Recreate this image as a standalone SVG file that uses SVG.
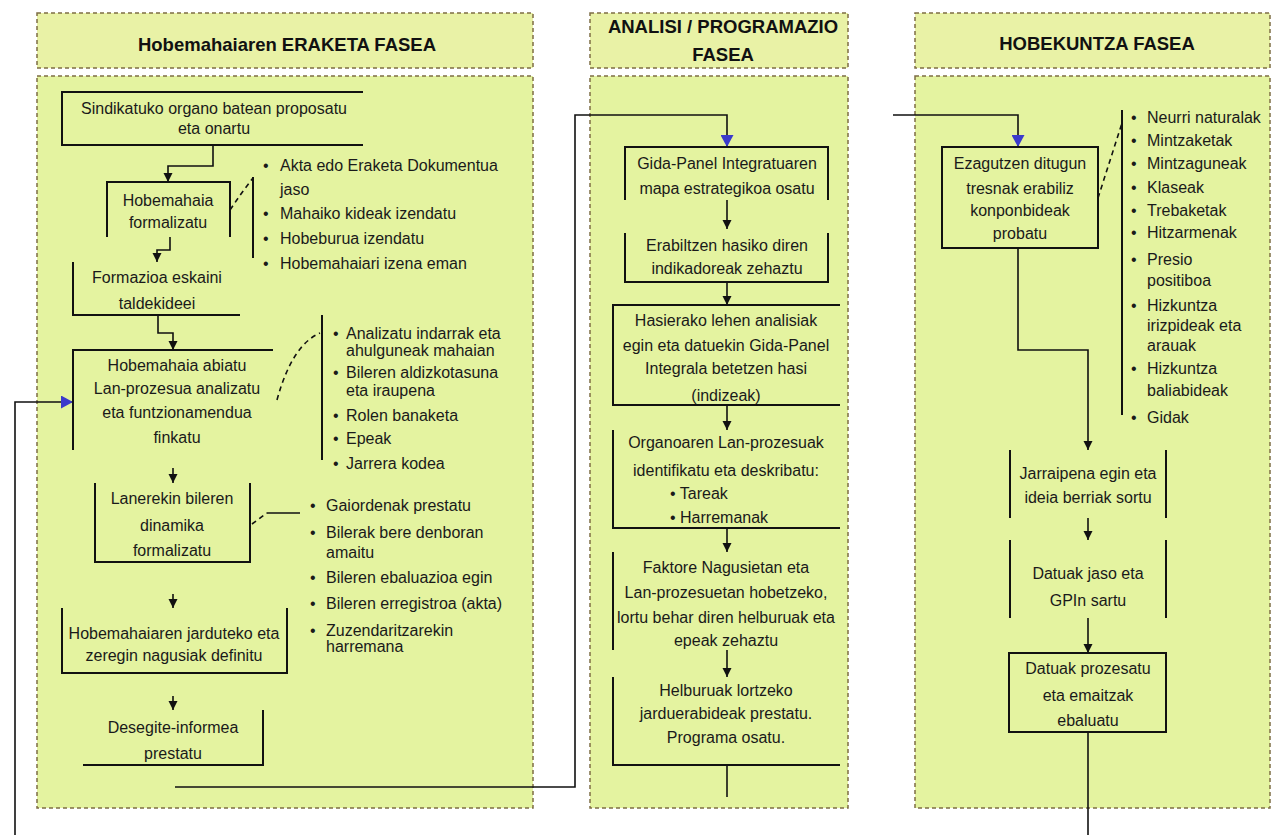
<svg xmlns="http://www.w3.org/2000/svg" width="1276" height="835" viewBox="0 0 1276 835">
  <style>
    .band { fill: #e9f2a6; stroke: #7d6d44; stroke-width: 1.5; stroke-dasharray: 4 3; }
    .body { fill: #e4f3a0; stroke: #7d6d44; stroke-width: 1.5; stroke-dasharray: 4 3; }
    .hdr { font-family: "Liberation Sans", Arial, sans-serif; font-size: 18.5px; font-weight: bold; fill: #111; text-anchor: middle; }
    .t { font-family: "Liberation Sans", Arial, sans-serif; font-size: 16px; fill: #1a1a1a; text-anchor: middle; }
    .b { font-family: "Liberation Sans", Arial, sans-serif; font-size: 16px; fill: #1a1a1a; }
    .edge { stroke: #111; stroke-width: 2; fill: none; }
    .ln { stroke: #111; stroke-width: 1.6; fill: none; }
    .dash { stroke: #111; stroke-width: 1.6; fill: none; stroke-dasharray: 5 4; }
    .arr { stroke: #111; stroke-width: 1.6; fill: none; marker-end: url(#ah); }
    .arrb { stroke: #111; stroke-width: 1.6; fill: none; marker-end: url(#ahb); }
  </style>
  <defs>
    <marker id="ah" markerUnits="userSpaceOnUse" markerWidth="10" markerHeight="10" refX="9" refY="5" orient="auto">
      <path d="M0,0.5 L9,5 L0,9.5 z" fill="#111"/>
    </marker>
    <marker id="ahb" markerUnits="userSpaceOnUse" markerWidth="13" markerHeight="13" refX="12" refY="6.5" orient="auto">
      <path d="M0,0 L12,6.5 L0,13 z" fill="#3a3acc"/>
    </marker>
  </defs>

  <rect width="1276" height="835" fill="#ffffff"/>

  <!-- phase columns -->
  <g id="phase-eraketa">
    <rect class="band" x="37" y="13" width="496" height="55"/>
    <rect class="body" x="37" y="76" width="496" height="732"/>
    <text class="hdr" x="287" y="51">Hobemahaiaren ERAKETA FASEA</text>
  </g>
  <g id="phase-analisi">
    <rect class="band" x="590" y="13" width="258" height="55"/>
    <rect class="body" x="590" y="76" width="258" height="732"/>
    <text class="hdr" x="723" y="33">ANALISI / PROGRAMAZIO</text>
    <text class="hdr" x="723" y="61">FASEA</text>
  </g>
  <g id="phase-hobekuntza">
    <rect class="band" x="915" y="13" width="355" height="55"/>
    <rect class="body" x="915" y="76" width="355" height="732"/>
    <text class="hdr" x="1097" y="50">HOBEKUNTZA FASEA</text>
  </g>

  <!-- connectors -->
  <g id="connectors">
    <path class="arr" d="M213,145 V166 H168 V182"/>
    <path class="arr" d="M170,237 V250 H157 V262"/>
    <path class="arr" d="M158,315 V333 H173 V350"/>
    <path class="arr" d="M173,468 V483"/>
    <path class="arr" d="M173,594 V608"/>
    <path class="arr" d="M173,696 V710"/>
    <path class="arrb" d="M175,787 H575 V115 H727 V147"/>
    <path class="arrb" d="M15,835 V402 H73"/>

    <path class="arr" d="M727,200 V229"/>
    <path class="arr" d="M727,282 V305"/>
    <path class="arr" d="M727,405 V430"/>
    <path class="arr" d="M727,528 V552"/>
    <path class="arr" d="M727,650 V677"/>
    <path class="ln" d="M727,765 V797"/>

    <path class="arrb" d="M893,115 H1018 V147"/>
    <path class="arr" d="M1018,248 V350 H1088 V450"/>
    <path class="arr" d="M1088,518 V540"/>
    <path class="arr" d="M1088,618 V653"/>
    <path class="ln" d="M1088,732 V835"/>

    <!-- links from steps to their detail lists -->
    <path class="dash" d="M230,210 Q242,192 253,178"/>
    <path class="dash" d="M277,400 Q292,345 320,333"/>
    <path class="dash" d="M252,524 L267,513"/>
    <path class="ln" d="M267,513 H300"/>
    <path class="dash" d="M1098,198 L1122,123"/>
  </g>

  <!-- ERAKETA phase steps -->
  <g id="s1">
    <path class="edge" d="M363,92 H62 V145 H363"/>
    <text class="t" x="214" y="114">Sindikatuko organo batean proposatu</text>
    <text class="t" x="214" y="134">eta onartu</text>
  </g>
  <g id="s2">
    <path class="edge" d="M107,237 V182 H230 V237"/>
    <text class="t" x="168" y="206">Hobemahaia</text>
    <text class="t" x="168" y="228">formalizatu</text>
  </g>
  <g id="s2-list">
    <path class="edge" d="M253,177 V258"/>
    <text class="b" x="263" y="171">•</text><text class="b" x="280" y="171">Akta edo Eraketa Dokumentua</text>
    <text class="b" x="280" y="195">jaso</text>
    <text class="b" x="263" y="219">•</text><text class="b" x="280" y="219">Mahaiko kideak izendatu</text>
    <text class="b" x="263" y="244">•</text><text class="b" x="280" y="244">Hobeburua izendatu</text>
    <text class="b" x="263" y="269">•</text><text class="b" x="280" y="269">Hobemahaiari izena eman</text>
  </g>
  <g id="s3">
    <path class="edge" d="M73,262 V315 H240"/>
    <text class="t" x="157" y="283">Formazioa eskaini</text>
    <text class="t" x="157" y="309">taldekideei</text>
  </g>
  <g id="s4">
    <path class="edge" d="M273,350 H73 V450"/>
    <text class="t" x="177" y="371">Hobemahaia abiatu</text>
    <text class="t" x="177" y="394">Lan-prozesua analizatu</text>
    <text class="t" x="177" y="418">eta funtzionamendua</text>
    <text class="t" x="177" y="443">finkatu</text>
  </g>
  <g id="s4-list">
    <path class="edge" d="M322,315 V460"/>
    <text class="b" x="333" y="339">•</text><text class="b" x="346" y="339">Analizatu indarrak eta</text>
    <text class="b" x="346" y="356">ahulguneak mahaian</text>
    <text class="b" x="333" y="378">•</text><text class="b" x="346" y="378">Bileren aldizkotasuna</text>
    <text class="b" x="346" y="396">eta iraupena</text>
    <text class="b" x="333" y="421">•</text><text class="b" x="346" y="421">Rolen banaketa</text>
    <text class="b" x="333" y="444">•</text><text class="b" x="346" y="444">Epeak</text>
    <text class="b" x="333" y="469">•</text><text class="b" x="346" y="469">Jarrera kodea</text>
  </g>
  <g id="s5">
    <path class="edge" d="M95,483 V562 H250 V483"/>
    <text class="t" x="172" y="504">Lanerekin bileren</text>
    <text class="t" x="172" y="531">dinamika</text>
    <text class="t" x="172" y="556">formalizatu</text>
  </g>
  <g id="s5-list">
    <text class="b" x="310" y="511">•</text><text class="b" x="326" y="511">Gaiordenak prestatu</text>
    <text class="b" x="310" y="538">•</text><text class="b" x="326" y="538">Bilerak bere denboran</text>
    <text class="b" x="326" y="558">amaitu</text>
    <text class="b" x="310" y="583">•</text><text class="b" x="326" y="583">Bileren ebaluazioa egin</text>
    <text class="b" x="310" y="609">•</text><text class="b" x="326" y="609">Bileren erregistroa (akta)</text>
    <text class="b" x="310" y="636">•</text><text class="b" x="326" y="636">Zuzendaritzarekin</text>
    <text class="b" x="326" y="652">harremana</text>
  </g>
  <g id="s6">
    <path class="edge" d="M62,608 V673 H287 V608"/>
    <text class="t" x="174" y="639">Hobemahaiaren jarduteko eta</text>
    <text class="t" x="174" y="661">zeregin nagusiak definitu</text>
  </g>
  <g id="s7">
    <path class="edge" d="M263,710 V765 H83"/>
    <text class="t" x="173" y="733">Desegite-informea</text>
    <text class="t" x="173" y="759">prestatu</text>
  </g>

  <!-- ANALISI / PROGRAMAZIO phase steps -->
  <g id="a1">
    <path class="edge" d="M625,200 V147 H828 V200"/>
    <text class="t" x="727" y="169">Gida-Panel Integratuaren</text>
    <text class="t" x="727" y="194">mapa estrategikoa osatu</text>
  </g>
  <g id="a2">
    <path class="edge" d="M625,233 V282 H828 V233"/>
    <text class="t" x="727" y="251">Erabiltzen hasiko diren</text>
    <text class="t" x="727" y="274">indikadoreak zehaztu</text>
  </g>
  <g id="a3">
    <path class="edge" d="M840,305 H613 V405 H840"/>
    <text class="t" x="726" y="326">Hasierako lehen analisiak</text>
    <text class="t" x="726" y="351">egin eta datuekin Gida-Panel</text>
    <text class="t" x="726" y="374">Integrala betetzen hasi</text>
    <text class="t" x="726" y="401">(indizeak)</text>
  </g>
  <g id="a4">
    <path class="edge" d="M613,430 V528 H840"/>
    <text class="t" x="726" y="448">Organoaren Lan-prozesuak</text>
    <text class="t" x="726" y="476">identifikatu eta deskribatu:</text>
    <text class="b" x="670" y="499">• Tareak</text>
    <text class="b" x="670" y="523">• Harremanak</text>
  </g>
  <g id="a5">
    <path class="edge" d="M613,552 V650"/>
    <text class="t" x="726" y="573">Faktore Nagusietan eta</text>
    <text class="t" x="726" y="598">Lan-prozesuetan hobetzeko,</text>
    <text class="t" x="726" y="623">lortu behar diren helburuak eta</text>
    <text class="t" x="726" y="646">epeak zehaztu</text>
  </g>
  <g id="a6">
    <path class="edge" d="M613,677 V765 H840"/>
    <text class="t" x="726" y="696">Helburuak lortzeko</text>
    <text class="t" x="726" y="719">jarduerabideak prestatu.</text>
    <text class="t" x="726" y="743">Programa osatu.</text>
  </g>

  <!-- HOBEKUNTZA phase steps -->
  <g id="h1">
    <rect class="edge" x="942" y="147" width="156" height="101"/>
    <text class="t" x="1020" y="169">Ezagutzen ditugun</text>
    <text class="t" x="1020" y="194">tresnak erabiliz</text>
    <text class="t" x="1020" y="216">konponbideak</text>
    <text class="t" x="1020" y="239">probatu</text>
  </g>
  <g id="h1-list">
    <path class="edge" d="M1122,110 V415"/>
    <text class="b" x="1131" y="123">•</text><text class="b" x="1147" y="123">Neurri naturalak</text>
    <text class="b" x="1131" y="146">•</text><text class="b" x="1147" y="146">Mintzaketak</text>
    <text class="b" x="1131" y="169">•</text><text class="b" x="1147" y="169">Mintzaguneak</text>
    <text class="b" x="1131" y="193">•</text><text class="b" x="1147" y="193">Klaseak</text>
    <text class="b" x="1131" y="216">•</text><text class="b" x="1147" y="216">Trebaketak</text>
    <text class="b" x="1131" y="238">•</text><text class="b" x="1147" y="238">Hitzarmenak</text>
    <text class="b" x="1131" y="265">•</text><text class="b" x="1147" y="265">Presio</text>
    <text class="b" x="1147" y="286">positiboa</text>
    <text class="b" x="1131" y="311">•</text><text class="b" x="1147" y="311">Hizkuntza</text>
    <text class="b" x="1147" y="331">irizpideak eta</text>
    <text class="b" x="1147" y="351">arauak</text>
    <text class="b" x="1131" y="374">•</text><text class="b" x="1147" y="374">Hizkuntza</text>
    <text class="b" x="1147" y="396">baliabideak</text>
    <text class="b" x="1131" y="423">•</text><text class="b" x="1147" y="423">Gidak</text>
  </g>
  <g id="h2">
    <path class="edge" d="M1010,450 V518 M1166,450 V518"/>
    <text class="t" x="1088" y="479">Jarraipena egin eta</text>
    <text class="t" x="1088" y="503">ideia berriak sortu</text>
  </g>
  <g id="h3">
    <path class="edge" d="M1010,540 V618 M1166,540 V618"/>
    <text class="t" x="1088" y="579">Datuak jaso eta</text>
    <text class="t" x="1088" y="606">GPIn sartu</text>
  </g>
  <g id="h4">
    <rect class="edge" x="1009" y="653" width="157" height="79"/>
    <text class="t" x="1088" y="674">Datuak prozesatu</text>
    <text class="t" x="1088" y="701">eta emaitzak</text>
    <text class="t" x="1088" y="726">ebaluatu</text>
  </g>
</svg>
